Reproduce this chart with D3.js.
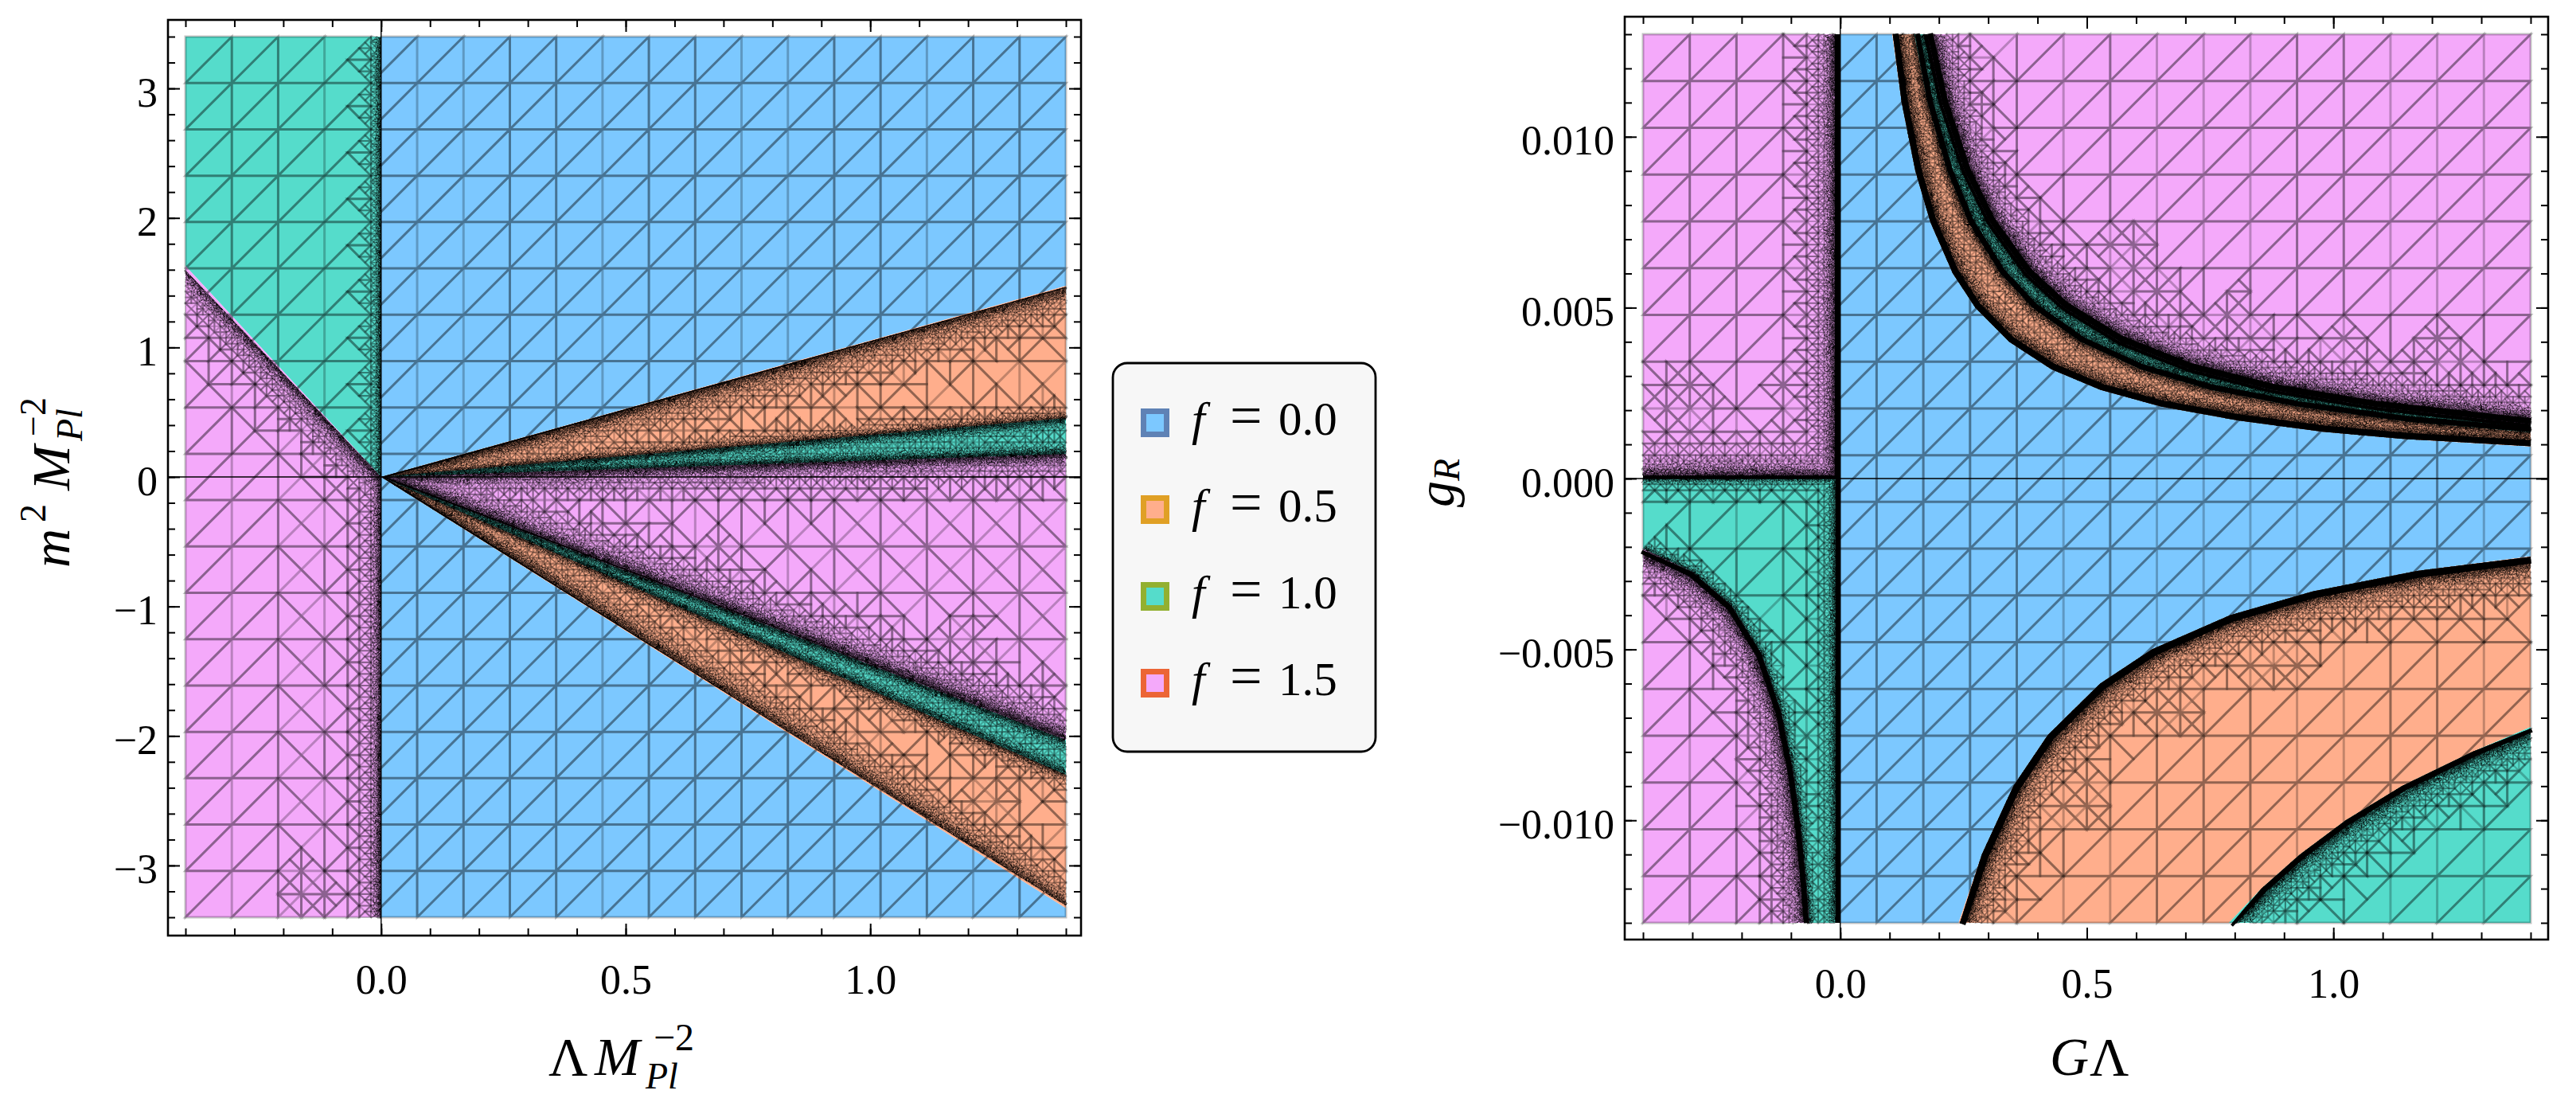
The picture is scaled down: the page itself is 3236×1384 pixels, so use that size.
<!DOCTYPE html>
<html>
<head>
<meta charset="utf-8">
<script src="https://cdn.jsdelivr.net/npm/d3@7"></script>
<style>
  html, body { margin: 0; background: #fff; }
  svg { display: block; }
  text { font-family: "Liberation Serif", serif; fill: #000; }
</style>
</head>
<body>
<svg id="chart" width="3236" height="1384"></svg>
<script>
// limits shared by the two panels
const xLimits = [-0.4, 1.4]
const leftYLimits = [-3.4, 3.4]
const rightYLimits = [-0.013, 0.013]

// left panel: straight boundaries through the origin, read at x = 1.4 and x = -0.4
const wedgeEndX = 1.4
const blueOrangeUpY = 1.475
const orangeTealUpY = 0.453
const tealPurpleUpY = 0.177
const purpleTealDownY = -2.03
const tealOrangeDownY = -2.3
const orangeBlueDownY = -3.33
const negativeSideX = -0.4
const negativeSideY = 1.63

// right panel: curved boundaries
const curveAX = [0.1054, 0.1245, 0.1522, 0.1827, 0.2283, 0.274, 0.3425, 0.428, 0.527, 0.652, 0.806, 0.979, 1.142, 1.4]
const curveAY = [0.013, 0.011, 0.009, 0.0075, 0.006, 0.005, 0.004, 0.0032, 0.0026, 0.0021, 0.0017, 0.00137, 0.00116, 0.00094]
const curveBX = [0.15, 0.177, 0.217, 0.26, 0.325, 0.39, 0.4875, 0.609, 0.75, 0.929, 1.147, 1.4]
const curveBY = [0.013, 0.011, 0.009, 0.0075, 0.006, 0.005, 0.004, 0.0032, 0.0026, 0.0021, 0.00167, 0.00135]
const curveCX = [0.175, 0.206, 0.252, 0.303, 0.378, 0.454, 0.5675, 0.709, 0.873, 1.081, 1.4]
const curveCY = [0.013, 0.011, 0.009, 0.0075, 0.006, 0.005, 0.004, 0.0032, 0.0026, 0.0021, 0.00158]
const curveDX = [0.24, 0.287, 0.351, 0.421, 0.527, 0.632, 0.79, 0.958, 1.17, 1.4]
const curveDY = [-0.013, -0.011, -0.009, -0.0075, -0.006, -0.005, -0.004, -0.0033, -0.0027, -0.00228]
const curveEX = [0.788, 0.854, 0.932, 1.025, 1.139, 1.281, 1.4]
const curveEY = [-0.013, -0.012, -0.011, -0.01, -0.009, -0.008, -0.00727]
const curveFX = [-0.4, -0.3, -0.22, -0.16, -0.12, -0.095, -0.08, -0.07, -0.063]
const curveFY = [-0.00205, -0.00273, -0.00373, -0.00513, -0.00683, -0.00863, -0.01025, -0.0117, -0.013]

// spots where the mesh is refined away from any boundary
const leftSpotX = [1.239, 1.185, 1.348, 0.673, -0.163]
const leftSpotY = [-2.62, -1.3, -1.7, -0.71, -3.2]
const rightSpotX = [0.592, 0.817, 1.019, 1.208, 0.639, -0.084, -0.315, 0.683, 0.877, 0.497]
const rightSpotY = [0.00648, 0.00468, 0.00354, 0.00354, 0.00527, 0.00219, 0.00235, -0.00678, -0.00536, -0.00953]

// ticks
const xMajor = [0, 0.5, 1]
const xMajorLabels = ['0.0', '0.5', '1.0']
const xMinor = [-0.4, -0.3, -0.2, -0.1, 0, 0.1, 0.2, 0.3, 0.4, 0.5, 0.6, 0.7, 0.8, 0.9, 1, 1.1, 1.2, 1.3, 1.4]
const leftYMajor = [-3, -2, -1, 0, 1, 2, 3]
const leftYLabels = ['\u22123', '\u22122', '\u22121', '0', '1', '2', '3']
const leftYMinor = d3.range(-17, 18).map(d => d * 0.2)
const rightYMajor = [-0.01, -0.005, 0, 0.005, 0.01]
const rightYLabels = ['\u22120.010', '\u22120.005', '0.000', '0.005', '0.010']
const rightYMinor = d3.range(-13, 14).map(d => d * 0.001)

// legend
const fValues = ['0.0', '0.5', '1.0', '1.5']
const fillColors = ['#7cc8ff', '#ffae8c', '#55dccb', '#f4a9fa']
const edgeColors = ['#5f82b5', '#e0a025', '#93b030', '#ec6536']

const BLUE = 0
const ORANGE = 1
const TEAL = 2
const PURPLE = 3

const gridCells = 19
const meshOpacity = 0.24
const svg = d3.select('#chart')
const defs = svg.append('defs')

const leftPanel = {
  id: 'left',
  frame: { left: 211, right: 1358, top: 25, bottom: 1175 },
  x: d3.scaleLinear().domain(xLimits).range([233, 1339]),
  y: d3.scaleLinear().domain(leftYLimits).range([1152, 46]),
  yMajor: leftYMajor,
  yLabels: leftYLabels,
  yMinor: leftYMinor,
  yLimits: leftYLimits,
  spots: d3.zip(leftSpotX, leftSpotY),
  minHyp: 2.2
}

const rightPanel = {
  id: 'right',
  frame: { left: 2041, right: 3201, top: 21, bottom: 1180 },
  x: d3.scaleLinear().domain(xLimits).range([2064, 3179]),
  y: d3.scaleLinear().domain(rightYLimits).range([1159, 43]),
  yMajor: rightYMajor,
  yLabels: rightYLabels,
  yMinor: rightYMinor,
  yLimits: rightYLimits,
  spots: d3.zip(rightSpotX, rightSpotY),
  minHyp: 2.4
}

// left panel regions
const [xa, xb] = xLimits
const [ya, yb] = leftYLimits
const origin = [0, 0]
const lineX0 = [[0, ya], [0, yb]]
const lineUp1 = [origin, [wedgeEndX, blueOrangeUpY]]
const lineUp2 = [origin, [wedgeEndX, orangeTealUpY]]
const lineUp3 = [origin, [wedgeEndX, tealPurpleUpY]]
const lineDown1 = [origin, [wedgeEndX, purpleTealDownY]]
const lineDown2 = [origin, [wedgeEndX, tealOrangeDownY]]
const lineDown3 = [origin, [wedgeEndX, orangeBlueDownY]]
const lineNeg = [[negativeSideX, negativeSideY], origin]

// bands: [boundary, solid width on this side, how fast the mesh coarsens away from it]
// capNear: [largest hypotenuse, distance from a band it holds for]
leftPanel.regions = [
  { f: BLUE, poly: [[0, yb], [xb, yb], lineUp1[1], origin], bands: [] },
  { f: BLUE, poly: [origin, lineDown3[1], [xb, ya], [0, ya]], bands: [] },
  { f: ORANGE, poly: [origin, lineUp1[1], lineUp2[1]], capNear: [60, 70], bands: [[lineUp1, 2, 0.065], [lineUp2, 0, 0.2]] },
  { f: ORANGE, poly: [origin, lineDown2[1], lineDown3[1]], capNear: [60, 70], bands: [[lineDown3, 2, 0.065], [lineDown2, 0, 0.17]] },
  { f: TEAL, poly: [origin, lineUp2[1], lineUp3[1]], bands: [[lineUp2, 1, 0.12], [lineUp3, 1, 0.12]] },
  { f: TEAL, poly: [origin, lineDown1[1], lineDown2[1]], bands: [[lineDown1, 1, 0.12], [lineDown2, 1, 0.12]] },
  { f: TEAL, poly: [lineNeg[0], [xa, yb], [0, yb], origin], bands: [[lineX0, 0.5, 0.18]] },
  { f: PURPLE, poly: [origin, lineUp3[1], lineDown1[1]], capNear: [60, 400], bands: [[lineUp3, 1, 0.085], [lineDown1, 2, 0.065]] },
  { f: PURPLE, poly: [lineNeg[0], origin, [0, ya], [xa, ya]], capNear: [60, 110], bands: [[lineX0, 1, 0.13], [lineNeg, 1.5, 0.07]] }
]

// right panel regions
const curveA = d3.zip(curveAX, curveAY)
const curveB = d3.zip(curveBX, curveBY)
const curveC = d3.zip(curveCX, curveCY)
const curveD = d3.zip(curveDX, curveDY)
const curveE = d3.zip(curveEX, curveEY)
const curveF = d3.zip(curveFX, curveFY)
const [ga, gb] = rightYLimits
const rev = a => a.slice().reverse()
const lineG0 = [[xa, 0], [0, 0]]
const lineR0Up = [[0, 0], [0, gb]]
const lineR0Down = [[0, ga], [0, 0]]

rightPanel.regions = [
  { f: BLUE, poly: [[0, gb], ...curveA, ...rev(curveD), [0, ga]], bands: [] },
  { f: ORANGE, poly: [...curveA, ...rev(curveB)], bands: [[curveA, 8, 0.07], [curveB, 1, 0.14]] },
  { f: ORANGE, poly: [...curveD, ...rev(curveE)], bands: [[curveD, 9, 0.07]] },
  { f: TEAL, poly: [...curveB, ...rev(curveC)], bands: [[curveB, 7, 0.08], [curveC, 4, 0.08]] },
  { f: TEAL, poly: [...curveE, [xb, ga]], bands: [[curveE, 7, 0.07]] },
  { f: TEAL, poly: [[xa, 0], [0, 0], [0, ga], ...rev(curveF)], bands: [[lineR0Down, 6, 0.13], [curveF, 0, 0.25], [lineG0, 0, 0.3]] },
  { f: PURPLE, poly: [...curveC, [xb, gb]], bands: [[curveC, 8, 0.07]] },
  { f: PURPLE, poly: [[xa, 0], [0, 0], [0, gb], [xa, gb]], capNear: [60, 90], bands: [[lineR0Up, 7, 0.07], [lineG0, 4, 0.06]] },
  { f: PURPLE, poly: [...curveF, [xa, ga]], bands: [[curveF, 7, 0.07]] }
]

function segDist(px, py, a, b) {
  const dx = b[0] - a[0]
  const dy = b[1] - a[1]
  const len = dx * dx + dy * dy
  let t = len ? ((px - a[0]) * dx + (py - a[1]) * dy) / len : 0
  t = Math.max(0, Math.min(1, t))
  return Math.hypot(px - a[0] - t * dx, py - a[1] - t * dy)
}

function lineDist(px, py, pts) {
  let best = Infinity
  for (let i = 1; i < pts.length; i++) {
    best = Math.min(best, segDist(px, py, pts[i - 1], pts[i]))
  }
  return best
}

// small fixed wobble for the finest mesh points, same point gives same wobble
function wobble(a, b) {
  const s = Math.sin(a * 12.9898 + b * 78.233) * 43758.5453
  return s - Math.floor(s) - 0.5
}

// right isosceles triangles, split across the hypotenuse until small enough
function buildMesh(panel, region) {
  const project = d => [panel.x(d[0]), panel.y(d[1])]
  const polyPx = region.poly.map(project)
  const closed = [...polyPx, polyPx[0]]
  const bands = region.bands.map(([line, core, grow]) => ({ pts: line.map(project), core, grow }))
  const spots = region.bands.length ? panel.spots.map(project) : []
  const gx = d3.scaleLinear().domain([0, gridCells]).range(panel.x.range())
  const gy = d3.scaleLinear().domain([0, gridCells]).range(panel.y.range())
  const stack = []
  for (let i = 0; i < gridCells; i++) {
    for (let j = 0; j < gridCells; j++) {
      const ll = [gx(i), gy(j)]
      const lr = [gx(i + 1), gy(j)]
      const ur = [gx(i + 1), gy(j + 1)]
      const ul = [gx(i), gy(j + 1)]
      stack.push([lr, ll, ur, 0], [ul, ll, ur, 0])
    }
  }
  const tris = []
  while (stack.length) {
    const t = stack.pop()
    const [a, b, c, depth] = t
    const cx = (a[0] + b[0] + c[0]) / 3
    const cy = (a[1] + b[1] + c[1]) / 3
    const hyp = Math.hypot(b[0] - c[0], b[1] - c[1])
    if (!d3.polygonContains(polyPx, [cx, cy]) && lineDist(cx, cy, closed) > hyp) continue
    let target = Infinity
    let nearest = Infinity
    for (const band of bands) {
      const dist = lineDist(cx, cy, band.pts)
      const d = Math.max(0, dist - band.core)
      nearest = Math.min(nearest, dist)
      target = Math.min(target, panel.minHyp + band.grow * Math.pow(d, 1.6))
    }
    if (region.capNear && nearest < region.capNear[1]) target = Math.min(target, region.capNear[0])
    for (const s of spots) {
      if (Math.hypot(cx - s[0], cy - s[1]) < 46) target = Math.min(target, 30)
    }
    if (hyp > target && hyp > panel.minHyp) {
      const mx = (b[0] + c[0]) / 2
      const my = (b[1] + c[1]) / 2
      const amp = hyp < 14 ? hyp * 0.45 : 0
      const m = [mx + amp * wobble(mx, my), my + amp * wobble(my, mx)]
      stack.push([m, a, b, depth + 1], [m, c, a, depth + 1])
    } else {
      tris.push(t)
    }
  }
  return tris
}

const meshWidth = bucket => {
  if (bucket >= 18) return 1
  if (bucket >= 16) return 1.2
  if (bucket >= 14) return 1.5
  if (bucket >= 10) return 2.1
  return 3
}

function drawPanel(panel) {
  const { frame, x, y } = panel
  const g = svg.append('g').attr('class', 'panel-' + panel.id)
  const area = d3.line().x(d => x(d[0])).y(d => y(d[1]))
  const [xLo, xHi] = xLimits
  const [yLo, yHi] = panel.yLimits

  // lines on the outer edge keep their full width, so the clip reaches past it
  const clipPoint = d => [
    x(d[0]) + (d[0] === xLo ? -5 : d[0] === xHi ? 5 : 0),
    y(d[1]) + (d[1] === yLo ? 5 : d[1] === yHi ? -5 : 0)
  ]

  g.append('g')
    .selectAll('path')
    .data(panel.regions)
    .join('path')
    .attr('d', d => area(d.poly) + 'Z')
    .attr('fill', d => fillColors[d.f])

  panel.regions.forEach((region, idx) => {
    const clipId = `clip-${panel.id}-${idx}`
    defs.append('clipPath').attr('id', clipId)
      .append('path')
      .attr('d', 'M' + region.poly.map(clipPoint).join('L') + 'Z')

    const clipped = g.append('g').attr('clip-path', `url(#${clipId})`)
    const tris = buildMesh(panel, region)
    tris.forEach((t, i) => { t.bucket = t[3] * 2 + (i % 2) })
    const byBucket = d3.rollups(tris, v => {
      const p = d3.path()
      for (const [a, b, c] of v) {
        p.moveTo(a[0], a[1])
        p.lineTo(b[0], b[1])
        p.lineTo(c[0], c[1])
        p.closePath()
      }
      return p.toString()
    }, t => t.bucket).sort((p, q) => d3.ascending(p[0], q[0]))

    clipped.selectAll('path.mesh')
      .data(byBucket)
      .join('path')
      .attr('class', 'mesh')
      .attr('d', d => d[1])
      .attr('fill', 'none')
      .attr('stroke', '#000')
      .attr('stroke-opacity', meshOpacity)
      .attr('stroke-width', d => meshWidth(d[0]))

    clipped.selectAll('path.band')
      .data(region.bands.filter(b => b[1] >= 2))
      .join('path')
      .attr('class', 'band')
      .attr('d', d => area(d[0]))
      .attr('fill', 'none')
      .attr('stroke', '#000')
      .attr('stroke-width', d => d[1] * 2)
  })

  // zero lines
  g.append('line')
    .attr('x1', x(0)).attr('x2', x(0))
    .attr('y1', frame.top).attr('y2', frame.bottom)
    .attr('stroke', '#000').attr('stroke-width', 1.4)
  g.append('line')
    .attr('x1', frame.left).attr('x2', frame.right)
    .attr('y1', y(0)).attr('y2', y(0))
    .attr('stroke', '#000').attr('stroke-width', 1.4)

  // minor ticks on all sides
  const addAxis = (axis, transform) => {
    const a = g.append('g').attr('transform', transform).call(axis)
    a.select('.domain').remove()
    a.selectAll('.tick line').attr('stroke', '#000').attr('stroke-width', 2)
    return a
  }
  addAxis(d3.axisBottom(x).tickValues(xMinor).tickSize(-9).tickFormat(''), `translate(0,${frame.bottom})`)
  addAxis(d3.axisTop(x).tickValues(xMinor).tickSize(-9).tickFormat(''), `translate(0,${frame.top})`)
  addAxis(d3.axisLeft(y).tickValues(panel.yMinor).tickSize(-9).tickFormat(''), `translate(${frame.left},0)`)
  addAxis(d3.axisRight(y).tickValues(panel.yMinor).tickSize(-9).tickFormat(''), `translate(${frame.right},0)`)

  // major ticks and labels
  addAxis(d3.axisTop(x).tickValues(xMajor).tickSize(-15).tickFormat(''), `translate(0,${frame.top})`)
  addAxis(d3.axisRight(y).tickValues(panel.yMajor).tickSize(-15).tickFormat(''), `translate(${frame.right},0)`)
  addAxis(
    d3.axisBottom(x).tickValues(xMajor).tickSize(-15).tickPadding(36).tickFormat((d, i) => xMajorLabels[i]),
    `translate(0,${frame.bottom})`
  ).attr('font-family', null).attr('font-size', null)
    .selectAll('text').style('font-size', '52px')
  addAxis(
    d3.axisLeft(y).tickValues(panel.yMajor).tickSize(-15).tickPadding(13).tickFormat((d, i) => panel.yLabels[i]),
    `translate(${frame.left},0)`
  ).attr('font-family', null).attr('font-size', null)
    .selectAll('text').style('font-size', '52px').attr('dy', '22px')

  g.append('rect')
    .attr('x', frame.left).attr('y', frame.top)
    .attr('width', frame.right - frame.left)
    .attr('height', frame.bottom - frame.top)
    .attr('fill', 'none')
    .attr('stroke', '#000')
    .attr('stroke-width', 2.6)
}

// pieces: [text, offset along the line, baseline shift, size, italic]
function mathLabel(transform, pieces) {
  svg.append('g')
    .attr('transform', transform)
    .selectAll('text')
    .data(pieces)
    .join('text')
    .attr('x', d => d[1])
    .attr('y', d => d[2])
    .style('font-size', d => d[3] + 'px')
    .style('font-style', d => (d[4] ? 'italic' : 'normal'))
    .text(d => d[0])
}

drawPanel(leftPanel)
drawPanel(rightPanel)

mathLabel('translate(689,1350)', [
  ['\u039b', 0, 0, 68, false],
  ['M', 58, 0, 68, true],
  ['Pl', 122, 17, 46, true],
  ['\u22122', 132, -31, 48, false]
])
mathLabel('translate(87,713) rotate(-90)', [
  ['m', 0, 0, 68, true],
  ['2', 57, -30, 46, false],
  ['M', 97, 0, 68, true],
  ['Pl', 159, 16, 46, true],
  ['\u22122', 165, -30, 46, false]
])
mathLabel('translate(2575,1350)', [
  ['G', 0, 0, 68, true],
  ['\u039b', 50, 0, 68, false]
])
mathLabel('translate(1826,637) rotate(-90)', [
  ['g', 0, 0, 66, true],
  ['R', 33, 7, 46, true]
])

// legend
const legend = svg.append('g').attr('class', 'legend')
const legendY = d3.scaleLinear().domain([0, 3]).range([531, 858])

legend.append('rect')
  .attr('x', 1398).attr('y', 456)
  .attr('width', 330).attr('height', 488)
  .attr('rx', 18)
  .attr('fill', '#f7f7f7')
  .attr('stroke', '#000')
  .attr('stroke-width', 2.8)

const rows = legend.selectAll('g.row')
  .data(fValues)
  .join('g')
  .attr('class', 'row')
  .attr('transform', (d, i) => `translate(0,${legendY(i)})`)

rows.append('rect')
  .attr('x', 1436.5).attr('y', -14.5)
  .attr('width', 29).attr('height', 29)
  .attr('fill', (d, i) => fillColors[i])
  .attr('stroke', (d, i) => edgeColors[i])
  .attr('stroke-width', 7)

rows.append('text')
  .attr('x', 1497).attr('y', 15)
  .style('font-size', '60px').style('font-style', 'italic')
  .text('f')
rows.append('text')
  .attr('x', 1545).attr('y', 15)
  .style('font-size', '72px')
  .text('=')
rows.append('text')
  .attr('x', 1606).attr('y', 15)
  .style('font-size', '59px')
  .text(d => d)
</script>
</body>
</html>
